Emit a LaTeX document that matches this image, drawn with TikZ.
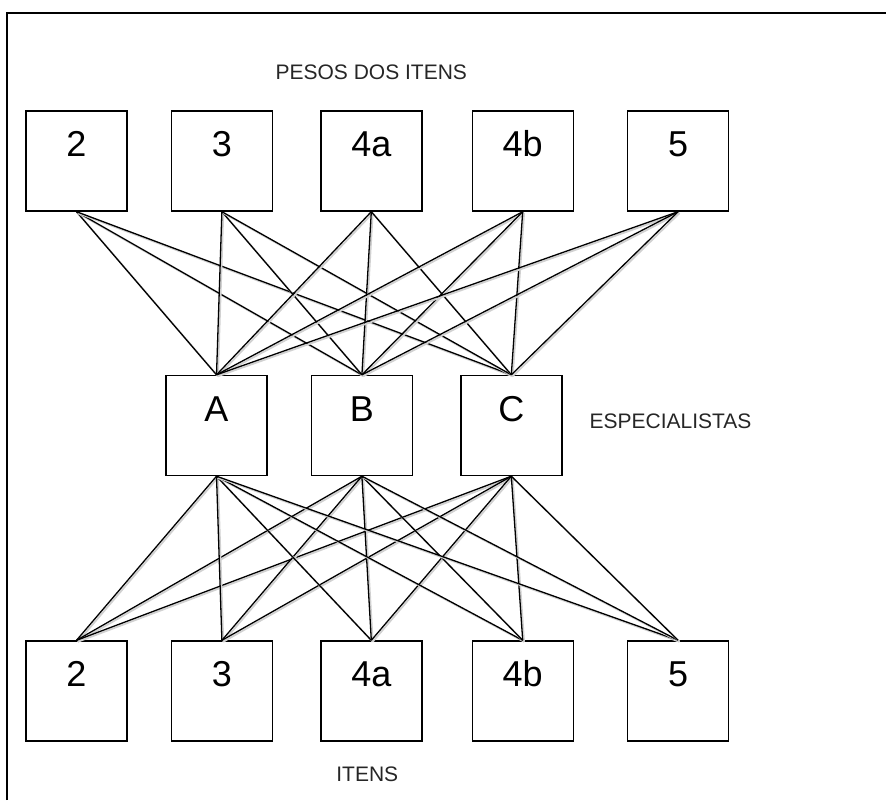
\documentclass[tikz,border=0pt]{standalone}
\usepackage{fontspec}
\setmainfont{Liberation Sans}
\usetikzlibrary{positioning}

\begin{document}
\begin{tikzpicture}[x=0.5pt, y=-0.5pt,
          item/.style={draw, line width=0.7pt,
                      minimum width=50.5pt, minimum height=50pt,
                      inner sep=0pt, font=\fontsize{18}{20}\selectfont,
                      text height=13pt, text depth=17.5pt},
          tag/.style={font=\fontsize{10.5}{12}\selectfont, text=black!85},
          link/.style={line width=0.65pt,
                      preaction={draw=black!18, line width=0.9pt,
                                 transform canvas={shift={(0.7pt,-0.7pt)}}}},
          frame/.style={line width=0.9pt}
        ]
          \useasboundingbox (0,0) rectangle (886,800);
          \draw[frame] (7,800) |- (886,13);

          % weights of the items
          \node[item] (t2) at (76.5,161) {2};
          \node[item, right=21.5pt of t2]  (t3)  {3};
          \node[item, right=23.5pt of t3]  (t4a) {4a};
          \node[item, right=24.5pt of t4a] (t4b) {4b};
          \node[item, right=26.5pt of t4b] (t5)  {5};
          \node[tag, above=12pt of t4a] (pesos) {PESOS DOS ITENS};

          % specialists
          \node[item] (mA) at (216.5,425.5) {A};
          \node[item, right=21.5pt of mA] (mB) {B};
          \node[item, right=23.5pt of mB] (mC) {C};
          \node[tag, right=10pt of mC, yshift=2pt] (esp) {ESPECIALISTAS};

          % items
          \node[item] (b2) at (76.5,691) {2};
          \node[item, right=21.5pt of b2]  (b3)  {3};
          \node[item, right=23.5pt of b3]  (b4a) {4a};
          \node[item, right=24.5pt of b4a] (b4b) {4b};
          \node[item, right=26.5pt of b4b] (b5)  {5};
          \node[tag, below=9pt of b4a, xshift=-2pt] (itens) {ITENS};

          \foreach \i in {2,3,4a,4b,5}
            \foreach \e in {A,B,C} {
              \draw[link] (t\i.south) -- (m\e.north);
              \draw[link] (m\e.south) -- (b\i.north);
            }
        \end{tikzpicture}
\end{document}
